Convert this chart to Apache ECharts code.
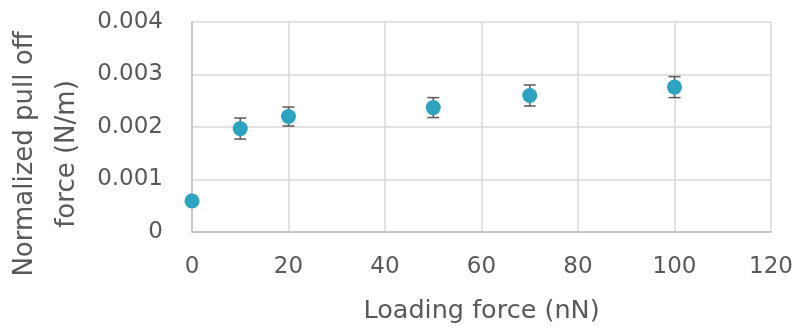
<!DOCTYPE html>
<html>
<head>
<meta charset="utf-8">
<script src="https://cdn.jsdelivr.net/npm/echarts@6/dist/echarts.min.js"></script>
<style>html,body{margin:0;padding:0;background:#fff}#c{width:796px;height:329px}</style>
</head>
<body>
<div id="c"></div>
<script>
const loadingForce = [0, 10, 20, 50, 70, 100];
const pullOff = [0.00059, 0.00197, 0.00220, 0.00237, 0.00260, 0.00276];
const errVal = [0.00000, 0.00020, 0.00018, 0.00019, 0.00020, 0.00020];
const xTitle = 'Loading force (nN)';
const yTitle = 'Normalized pull off\nforce (N/m)';

const FONT = 'DejaVu Sans';
const TXT = '#595959';
const chart = echarts.init(document.getElementById('c'));
const errData = loadingForce.map((x, i) => [x, pullOff[i] - errVal[i], pullOff[i] + errVal[i]]);
chart.setOption({
  animation: false,
  grid: { left: 192, right: 25, top: 22, bottom: 97 },
  xAxis: {
    type: 'value', min: 0, max: 120, interval: 20,
    name: xTitle, nameLocation: 'middle', nameGap: 66,
    nameTextStyle: { fontFamily: FONT, fontSize: 25.5, color: TXT },
    axisLine: { show: true, lineStyle: { color: '#bfbfbf', width: 1.5 } },
    axisTick: { show: false },
    axisLabel: { fontFamily: FONT, fontSize: 23, color: TXT, margin: 24 },
    splitLine: { show: true, lineStyle: { color: '#d9d9d9', width: 1.5 } }
  },
  yAxis: {
    type: 'value', min: 0, max: 0.004, interval: 0.001,
    axisLine: { show: true, lineStyle: { color: '#bfbfbf', width: 1.5 } },
    axisTick: { show: false },
    axisLabel: { fontFamily: FONT, fontSize: 23, color: TXT, margin: 29,
      formatter: v => v === 0 ? '0' : v.toFixed(3) },
    splitLine: { show: true, lineStyle: { color: '#d9d9d9', width: 1.5 } }
  },
  graphic: [{
    type: 'text', x: 46, y: 154, rotation: Math.PI / 2,
    style: { text: yTitle, fontFamily: FONT, fontSize: 26, fill: TXT,
      textAlign: 'center', textVerticalAlign: 'middle', lineHeight: 42 }
  }],
  series: [
    {
      type: 'custom',
      data: errData,
      z: 3,
      renderItem: function (params, api) {
        const x = api.value(0);
        const lo = api.coord([x, api.value(1)]);
        const hi = api.coord([x, api.value(2)]);
        const hw = 6;
        const st = { stroke: '#595959', lineWidth: 1.5 };
        return { type: 'group', children: [
          { type: 'line', shape: { x1: lo[0], y1: lo[1], x2: hi[0], y2: hi[1] }, style: st },
          { type: 'line', shape: { x1: lo[0] - hw, y1: lo[1], x2: lo[0] + hw, y2: lo[1] }, style: st },
          { type: 'line', shape: { x1: hi[0] - hw, y1: hi[1], x2: hi[0] + hw, y2: hi[1] }, style: st }
        ]};
      }
    },
    {
      type: 'scatter',
      data: loadingForce.map((x, i) => [x, pullOff[i]]),
      symbolSize: 15,
      z: 4,
      itemStyle: { color: '#2ca3c1', opacity: 1 }
    }
  ]
});
</script>
</body>
</html>
